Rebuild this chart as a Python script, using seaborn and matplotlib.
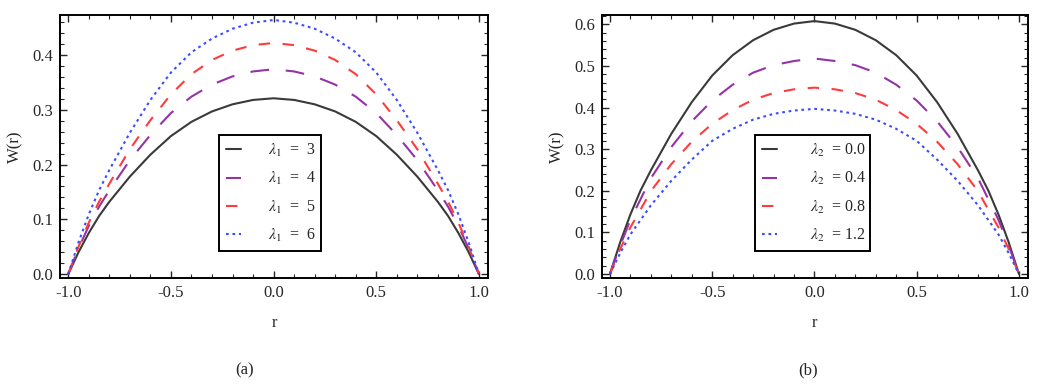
import numpy as np
import pandas as pd
import seaborn as sns
import matplotlib.pyplot as plt
from matplotlib.ticker import MultipleLocator

# radial positions (same grid for every curve, denser near the walls)
r = [-1.0, -0.95, -0.9, -0.85, -0.8, -0.7, -0.6, -0.5, -0.4, -0.3, -0.2, -0.1, 0.0,
     0.1, 0.2, 0.3, 0.4, 0.5, 0.6, 0.7, 0.8, 0.85, 0.9, 0.95, 1.0]

# panel (a): varying lambda_1
w_l1_3 = [0, 0.040, 0.075, 0.106, 0.132, 0.178, 0.218, 0.252, 0.278, 0.297, 0.310, 0.318, 0.321,
          0.318, 0.310, 0.297, 0.278, 0.252, 0.218, 0.178, 0.132, 0.106, 0.075, 0.040, 0]
w_l1_4 = [0, 0.047, 0.088, 0.123, 0.153, 0.208, 0.254, 0.294, 0.324, 0.346, 0.361, 0.370, 0.374,
          0.370, 0.361, 0.346, 0.324, 0.294, 0.254, 0.208, 0.153, 0.123, 0.088, 0.047, 0]
w_l1_5 = [0, 0.050, 0.094, 0.132, 0.165, 0.228, 0.281, 0.328, 0.365, 0.391, 0.408, 0.418, 0.422,
          0.418, 0.408, 0.391, 0.365, 0.328, 0.281, 0.228, 0.165, 0.132, 0.094, 0.050, 0]
w_l1_6 = [0, 0.058, 0.109, 0.153, 0.190, 0.258, 0.318, 0.368, 0.405, 0.430, 0.448, 0.459, 0.464,
          0.459, 0.448, 0.430, 0.405, 0.368, 0.318, 0.258, 0.190, 0.153, 0.109, 0.058, 0]

# panel (b): varying lambda_2
w_l2_00 = [0, 0.076, 0.143, 0.201, 0.249, 0.337, 0.413, 0.477, 0.526, 0.562, 0.587, 0.602, 0.608,
           0.602, 0.587, 0.562, 0.526, 0.477, 0.413, 0.337, 0.249, 0.201, 0.143, 0.076, 0]
w_l2_04 = [0, 0.068, 0.130, 0.180, 0.230, 0.305, 0.367, 0.417, 0.455, 0.484, 0.502, 0.512, 0.518,
           0.512, 0.502, 0.484, 0.455, 0.417, 0.367, 0.305, 0.230, 0.180, 0.130, 0.068, 0]
w_l2_08 = [0, 0.060, 0.112, 0.155, 0.199, 0.264, 0.318, 0.361, 0.394, 0.419, 0.435, 0.444, 0.448,
           0.444, 0.435, 0.419, 0.394, 0.361, 0.318, 0.264, 0.199, 0.155, 0.112, 0.060, 0]
w_l2_12 = [0, 0.050, 0.095, 0.130, 0.165, 0.224, 0.275, 0.320, 0.349, 0.371, 0.385, 0.393, 0.397,
           0.393, 0.385, 0.371, 0.349, 0.320, 0.275, 0.224, 0.165, 0.130, 0.095, 0.050, 0]

labels_a = [r'$\lambda_1$  =  3', r'$\lambda_1$  =  4', r'$\lambda_1$  =  5', r'$\lambda_1$  =  6']
labels_b = [r'$\lambda_2$  = 0.0', r'$\lambda_2$  = 0.4', r'$\lambda_2$  = 0.8', r'$\lambda_2$  = 1.2']

colors = ['#3a3a3a', '#9433a8', '#ff3b3b', '#3b4cff']
dash_styles = ['', (9, 8), (5.5, 6), (1.3, 1.8)]

sns.set_style('ticks')
plt.rcParams['font.family'] = ['Liberation Serif', 'DejaVu Serif']
plt.rcParams['mathtext.fontset'] = 'stix'
plt.rcParams['axes.unicode_minus'] = False


def make_frame(curves, labels):
    parts = [pd.DataFrame({'r': r, 'W': vals, 'case': lab}) for vals, lab in zip(curves, labels)]
    return pd.concat(parts, ignore_index=True)


def draw(ax, df, labels, ylim, leg_box, textpad):
    sns.lineplot(data=df, x='r', y='W', hue='case', style='case',
                 palette=dict(zip(labels, colors)), dashes=dict(zip(labels, dash_styles)),
                 linewidth=1.5, ax=ax)
    ax.set_xlim(-1.04, 1.044)
    ax.set_ylim(*ylim)
    ax.xaxis.set_major_locator(MultipleLocator(0.5))
    ax.xaxis.set_minor_locator(MultipleLocator(0.1))
    ax.yaxis.set_major_locator(MultipleLocator(0.1))
    ax.yaxis.set_minor_locator(MultipleLocator(0.02))
    ax.xaxis.set_major_formatter(plt.FormatStrFormatter('%.1f'))
    ax.yaxis.set_major_formatter(plt.FormatStrFormatter('%.1f'))
    ax.tick_params(which='both', direction='in', top=True, right=True, labelsize=12, pad=5)
    ax.tick_params(which='major', length=5, width=1)
    ax.tick_params(which='minor', length=3, width=0.8)
    for sp in ax.spines.values():
        sp.set_linewidth(1.4)
        sp.set_color('black')
    ax.set_xlabel('r', fontsize=12, labelpad=10)
    ax.set_ylabel('W(r)', fontsize=12, labelpad=6)
    handles, labs = ax.get_legend_handles_labels()
    leg = ax.legend(handles, labs, loc='lower left', bbox_to_anchor=leg_box, mode='expand',
                    fontsize=11.5, handlelength=0.9, handletextpad=textpad, labelspacing=0.7,
                    borderpad=0.45, fancybox=False, framealpha=1, edgecolor='black')
    leg.get_frame().set_linewidth(1.4)


fig = plt.figure(figsize=(10.42, 3.85), dpi=100)
ax_a = fig.add_axes([0.0576, 0.278, 0.4107, 0.683])
ax_b = fig.add_axes([0.5775, 0.278, 0.409, 0.683])

df_a = make_frame([w_l1_3, w_l1_4, w_l1_5, w_l1_6], labels_a)
df_b = make_frame([w_l2_00, w_l2_04, w_l2_08, w_l2_12], labels_b)

draw(ax_a, df_a, labels_a, (-0.007, 0.473), (0.353, 0.072, 0.275, 0.396), 1.7)
draw(ax_b, df_b, labels_b, (-0.0096, 0.6226), (0.3415, 0.072, 0.307, 0.418), 2.1)

fig.text(245 / 1042, 1 - 370 / 385, '(a)', ha='center', va='center', fontsize=12)
fig.text(808 / 1042, 1 - 370 / 385, '(b)', ha='center', va='center', fontsize=12)

fig.savefig('out.png', dpi=100)
